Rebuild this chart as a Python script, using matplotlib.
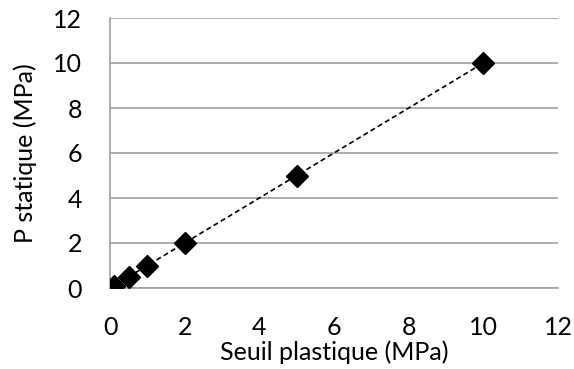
import matplotlib
matplotlib.use("Agg")
import matplotlib.pyplot as plt

x_vals = [0.1, 0.5, 1, 2, 5, 10]
y_vals = [0.1, 0.5, 1, 2, 5, 10]
ticks = [0, 2, 4, 6, 8, 10, 12]
xlabel = "Seuil plastique (MPa)"
ylabel = "P statique (MPa)"

plt.rcParams['font.family'] = ['Lato', 'DejaVu Sans']
fig = plt.figure(figsize=(5.74, 3.69), dpi=100)
ax = fig.add_axes([110/574, 1-288/369, 448/574, 270/369])
ax.plot(x_vals, y_vals, linestyle=(0, (3, 2)), color='black', linewidth=1.2,
        marker='D', markersize=11.5, markerfacecolor='black', markeredgecolor='black', zorder=3)
ax.set_xlim(0, 12)
ax.set_ylim(0, 12)
ax.set_xticks(ticks)
ax.set_yticks(ticks)
ax.grid(axis='y', color='#a0a0a0', linewidth=1.2)
ax.set_axisbelow(True)
for s in ['top', 'right']:
    ax.spines[s].set_visible(False)
for s in ['left', 'bottom']:
    ax.spines[s].set_color('#a0a0a0')
    ax.spines[s].set_linewidth(1.2)
ax.tick_params(length=0, labelsize=18, colors='black')
ax.tick_params(axis='x', pad=20)
ax.tick_params(axis='y', pad=20)
ax.set_xlabel(xlabel, fontsize=18, labelpad=1)
ax.set_ylabel(ylabel, fontsize=18, labelpad=12)
fig.savefig("out.png", dpi=100)
